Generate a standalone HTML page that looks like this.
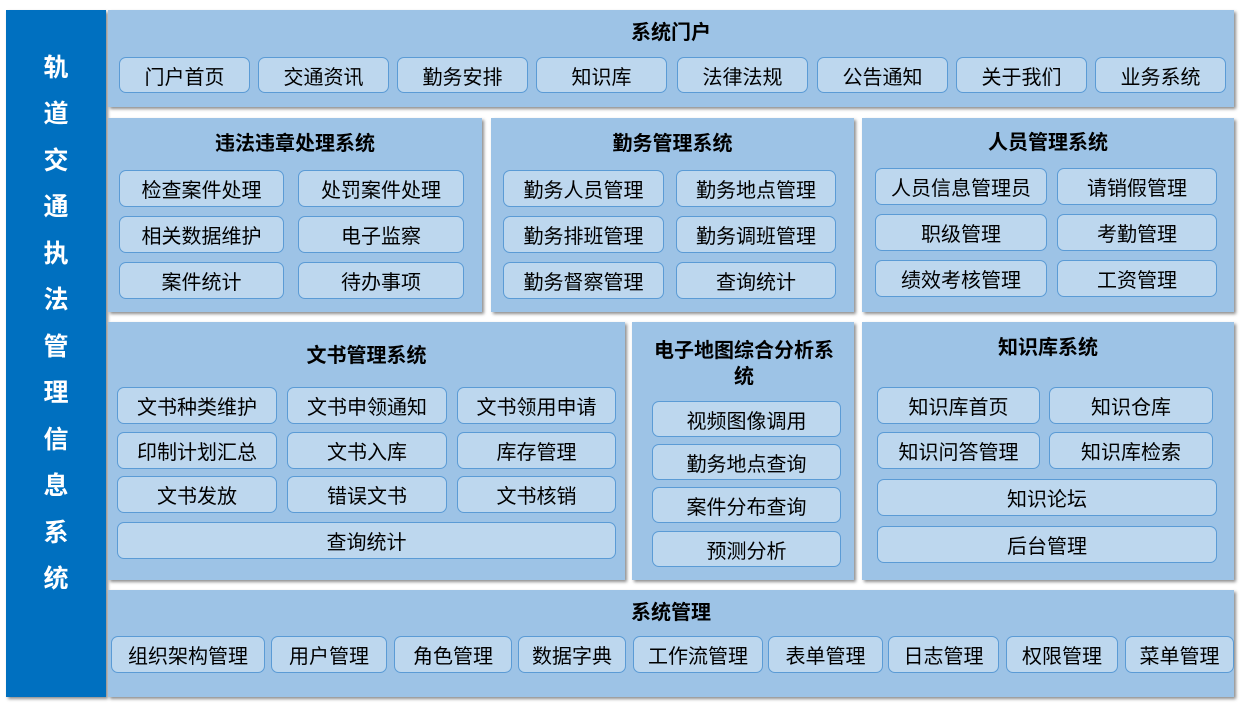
<!DOCTYPE html>
<html><head><meta charset="utf-8"><style>
body{margin:0;width:1248px;height:707px;background:#fff;position:relative;overflow:hidden;font-family:"Liberation Sans","Noto Sans CJK SC",sans-serif}
.p{position:absolute;background:#9DC3E6;box-shadow:2px 2px 3px rgba(0,0,0,.45)}
.b{position:absolute;background:#BDD7EE;border:1px solid #5B9BD5;border-radius:7px;box-sizing:border-box;display:flex;align-items:center;justify-content:center;font-size:20px;color:#000;white-space:nowrap}
.t{position:absolute;font-weight:bold;font-size:20px;text-align:center;color:#000;line-height:26px}
#l{position:absolute;left:6px;top:10px;width:100px;height:687px;box-sizing:border-box;padding-bottom:60px;background:#0070C0;color:#fff;font-weight:bold;font-size:25px;display:flex;flex-direction:column;align-items:center;justify-content:center;line-height:46.5px;box-shadow:2px 2px 3px rgba(0,0,0,.45)}
</style></head><body>
<div id="l"><div>轨</div><div>道</div><div>交</div><div>通</div><div>执</div><div>法</div><div>管</div><div>理</div><div>信</div><div>息</div><div>系</div><div>统</div></div>

<div class="p" style="left:108px;top:10px;width:1126px;height:97px"></div>
<div class="t" style="left:108px;top:20px;width:1126px">系统门户</div>
<div class="b" style="left:119px;top:57px;width:131px;height:36px">门户首页</div>
<div class="b" style="left:258px;top:57px;width:131px;height:36px">交通资讯</div>
<div class="b" style="left:397px;top:57px;width:131px;height:36px">勤务安排</div>
<div class="b" style="left:536px;top:57px;width:131px;height:36px">知识库</div>
<div class="b" style="left:677px;top:57px;width:131px;height:36px">法律法规</div>
<div class="b" style="left:817px;top:57px;width:131px;height:36px">公告通知</div>
<div class="b" style="left:956px;top:57px;width:131px;height:36px">关于我们</div>
<div class="b" style="left:1095px;top:57px;width:131px;height:36px">业务系统</div>

<div class="p" style="left:108px;top:118px;width:374px;height:194px"></div>
<div class="t" style="left:108px;top:131px;width:374px">违法违章处理系统</div>
<div class="b" style="left:119px;top:170px;width:165px;height:37px">检查案件处理</div>
<div class="b" style="left:298px;top:170px;width:166px;height:37px">处罚案件处理</div>
<div class="b" style="left:119px;top:216px;width:165px;height:37px">相关数据维护</div>
<div class="b" style="left:298px;top:216px;width:166px;height:37px">电子监察</div>
<div class="b" style="left:119px;top:262px;width:165px;height:37px">案件统计</div>
<div class="b" style="left:298px;top:262px;width:166px;height:37px">待办事项</div>

<div class="p" style="left:491px;top:118px;width:363px;height:194px"></div>
<div class="t" style="left:491px;top:131px;width:363px">勤务管理系统</div>
<div class="b" style="left:503px;top:170px;width:161px;height:37px">勤务人员管理</div>
<div class="b" style="left:676px;top:170px;width:160px;height:37px">勤务地点管理</div>
<div class="b" style="left:503px;top:216px;width:161px;height:37px">勤务排班管理</div>
<div class="b" style="left:676px;top:216px;width:160px;height:37px">勤务调班管理</div>
<div class="b" style="left:503px;top:262px;width:161px;height:37px">勤务督察管理</div>
<div class="b" style="left:676px;top:262px;width:160px;height:37px">查询统计</div>

<div class="p" style="left:862px;top:118px;width:372px;height:194px"></div>
<div class="t" style="left:862px;top:130px;width:372px">人员管理系统</div>
<div class="b" style="left:875px;top:168px;width:172px;height:37px">人员信息管理员</div>
<div class="b" style="left:1057px;top:168px;width:160px;height:37px">请销假管理</div>
<div class="b" style="left:875px;top:214px;width:172px;height:37px">职级管理</div>
<div class="b" style="left:1057px;top:214px;width:160px;height:37px">考勤管理</div>
<div class="b" style="left:875px;top:260px;width:172px;height:37px">绩效考核管理</div>
<div class="b" style="left:1057px;top:260px;width:160px;height:37px">工资管理</div>

<div class="p" style="left:108px;top:322px;width:517px;height:258px"></div>
<div class="t" style="left:108px;top:343px;width:517px">文书管理系统</div>
<div class="b" style="left:117px;top:387px;width:160px;height:37px">文书种类维护</div>
<div class="b" style="left:287px;top:387px;width:160px;height:37px">文书申领通知</div>
<div class="b" style="left:457px;top:387px;width:159px;height:37px">文书领用申请</div>
<div class="b" style="left:117px;top:432px;width:160px;height:37px">印制计划汇总</div>
<div class="b" style="left:287px;top:432px;width:160px;height:37px">文书入库</div>
<div class="b" style="left:457px;top:432px;width:159px;height:37px">库存管理</div>
<div class="b" style="left:117px;top:476px;width:160px;height:37px">文书发放</div>
<div class="b" style="left:287px;top:476px;width:160px;height:37px">错误文书</div>
<div class="b" style="left:457px;top:476px;width:159px;height:37px">文书核销</div>
<div class="b" style="left:117px;top:522px;width:499px;height:37px">查询统计</div>

<div class="p" style="left:632px;top:322px;width:222px;height:258px"></div>
<div class="t" style="left:648px;top:338px;width:192px">电子地图综合分析系统</div>
<div class="b" style="left:652px;top:401px;width:189px;height:36px">视频图像调用</div>
<div class="b" style="left:652px;top:444px;width:189px;height:36px">勤务地点查询</div>
<div class="b" style="left:652px;top:487px;width:189px;height:36px">案件分布查询</div>
<div class="b" style="left:652px;top:531px;width:189px;height:36px">预测分析</div>

<div class="p" style="left:862px;top:322px;width:372px;height:258px"></div>
<div class="t" style="left:862px;top:335px;width:372px">知识库系统</div>
<div class="b" style="left:877px;top:387px;width:163px;height:37px">知识库首页</div>
<div class="b" style="left:1049px;top:387px;width:164px;height:37px">知识仓库</div>
<div class="b" style="left:877px;top:432px;width:163px;height:37px">知识问答管理</div>
<div class="b" style="left:1049px;top:432px;width:164px;height:37px">知识库检索</div>
<div class="b" style="left:877px;top:479px;width:340px;height:37px">知识论坛</div>
<div class="b" style="left:877px;top:526px;width:340px;height:37px">后台管理</div>

<div class="p" style="left:108px;top:590px;width:1126px;height:107px"></div>
<div class="t" style="left:108px;top:600px;width:1126px">系统管理</div>
<div class="b" style="left:111px;top:636px;width:154px;height:37px">组织架构管理</div>
<div class="b" style="left:271px;top:636px;width:116px;height:37px">用户管理</div>
<div class="b" style="left:394px;top:636px;width:118px;height:37px">角色管理</div>
<div class="b" style="left:518px;top:636px;width:108px;height:37px">数据字典</div>
<div class="b" style="left:633px;top:636px;width:130px;height:37px">工作流管理</div>
<div class="b" style="left:768px;top:636px;width:115px;height:37px">表单管理</div>
<div class="b" style="left:888px;top:636px;width:111px;height:37px">日志管理</div>
<div class="b" style="left:1006px;top:636px;width:112px;height:37px">权限管理</div>
<div class="b" style="left:1125px;top:636px;width:109px;height:37px">菜单管理</div>
</body></html>
